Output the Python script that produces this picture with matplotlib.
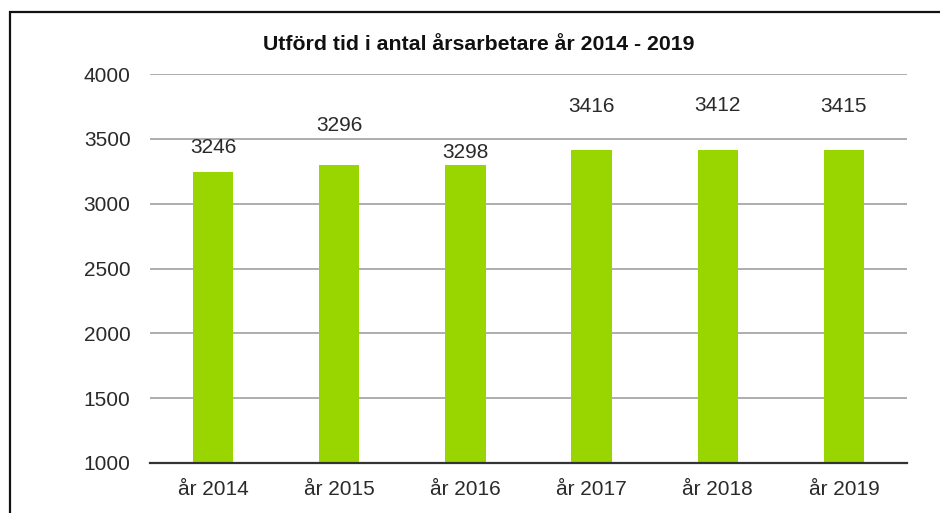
#!/usr/bin/env python3
"""
Utförd tid i antal årsarbetare, stapeldiagram.
"""

import matplotlib
matplotlib.use('Agg')
import matplotlib.pyplot as plt
from matplotlib.patches import Rectangle

# Data
years = ['år 2014', 'år 2015', 'år 2016', 'år 2017', 'år 2018', 'år 2019']
values = [3246, 3296, 3298, 3416, 3412, 3415]
yticks = [1000, 1500, 2000, 2500, 3000, 3500, 4000]

# Etiketternas avstånd ovanför stapeln (pixlar), som i originalet
label_offsets = [24, 40, 13, 43, 45, 43]


def main():
    plt.rcParams['font.family'] = ['Liberation Sans', 'DejaVu Sans']

    fig = plt.figure(figsize=(9.4, 5.13), dpi=100)
    ax = fig.add_axes([150 / 940, 1 - 463 / 513, 757 / 940, 389 / 513])

    x = range(len(years))
    ax.bar(x, values, width=0.32, color='#99d600', zorder=3)

    for i, v in enumerate(values):
        ax.annotate(str(v), (i, v), xytext=(0, label_offsets[i] * 0.72),
                    textcoords='offset points', ha='center', va='center',
                    fontsize=15, color='#2a2a2a')

    ax.set_ylim(1000, 4000)
    ax.set_xlim(-0.5, len(years) - 0.5)
    ax.set_yticks(yticks)
    ax.set_xticks(list(x))
    ax.set_xticklabels(years)
    ax.tick_params(axis='both', length=0, labelsize=15, colors='#2a2a2a')
    ax.tick_params(axis='y', pad=14)
    ax.tick_params(axis='x', pad=12)
    ax.yaxis.grid(True, color='#a0a0a0', linewidth=1.2, zorder=0)
    for s in ['left', 'right', 'top']:
        ax.spines[s].set_visible(False)
    ax.spines['bottom'].set_color('#333333')
    ax.spines['bottom'].set_linewidth(1.6)
    ax.spines['bottom'].set_zorder(4)

    fig.text(479 / 940, 1 - 45 / 513, 'Utförd tid i antal årsarbetare år 2014 - 2019',
             ha='center', va='center', fontsize=15.3, fontweight='bold',
             color='#111111')

    # Ram runt diagrammet
    fig.patches.append(Rectangle((10 / 940, -0.1), 1.1, 1 - 12 / 513 + 0.1,
                                 transform=fig.transFigure, fill=False,
                                 edgecolor='#111111', linewidth=1.6))

    fig.savefig('out.png', dpi=100)


if __name__ == '__main__':
    main()
